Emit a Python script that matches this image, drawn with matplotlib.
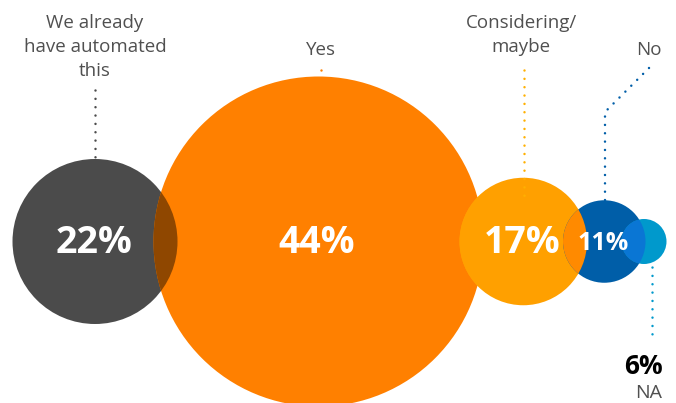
import matplotlib.pyplot as plt
from matplotlib.patches import Circle

plt.rcParams['font.family'] = ['Open Sans', 'DejaVu Sans']
plt.rcParams['lines.scale_dashes'] = False

# answers and their share (%)
answers = ['We already\nhave automated\nthis', 'Yes', 'Considering/\nmaybe', 'No', 'NA']
shares = [22, 44, 17, 11, 6]

colours = ['#4b4b4b', '#ff8000', '#ffa000', '#005ea8', '#0099cc']
# colour where a circle covers the one before it
overlap_colours = [None, '#8f4700', '#ffa000', '#ff8a00', '#0a76d4']
dot_colours = ['#4b4b4b', '#ff8000', '#ffa000', '#005ea8', '#0099cc']

# layout, in pixels
px_per_pct = 3.75
overlap = 24
left = 12.5
cy = 241.5
pct_sizes = [27, 27, 27, 18, 19]

fig = plt.figure(figsize=(6.76, 4.03), dpi=100)
ax = fig.add_axes([0, 0, 1, 1])
ax.set_xlim(0, 676)
ax.set_ylim(403, 0)
ax.axis('off')

radii = [s * px_per_pct for s in shares]
centres = []
x = left + radii[0]
for i, r in enumerate(radii):
    if i > 0:
        x = x + radii[i - 1] + r - overlap
    centres.append(x)

dots = dict(linestyle=(0, (0.01, 6)), linewidth=1.8, dash_capstyle='round')

# leader lines (drawn under the circles where they enter them)
def leader(xs, ys, c, z):
    ax.plot(xs, ys, color=c, zorder=z, **dots)

for i, r in enumerate(radii):
    circ = Circle((centres[i], cy), r, facecolor=colours[i], edgecolor='none', zorder=2 + 2 * i)
    ax.add_patch(circ)
    if i > 0:
        prev = Circle((centres[i - 1], cy), radii[i - 1], transform=ax.transData)
        ov = Circle((centres[i], cy), r, facecolor=overlap_colours[i], edgecolor='none', zorder=3 + 2 * i)
        ax.add_patch(ov)
        ov.set_clip_path(prev)

leader([centres[0], centres[0]], [90, 202], dot_colours[0], 20)
leader([centres[1] + 2, centres[1] + 2], [70, 100], dot_colours[1], 1)
leader([centres[2] + 1, centres[2] + 1], [70, 202], '#ffb000', 20)
leader([649, 605, 605], [68, 112, 227], dot_colours[3], 20)
leader([652, 652], [242, 337], dot_colours[4], 20)

# category labels
ax.text(centres[0], 14, answers[0], ha='center', va='top', fontsize=13.5,
        color='#505050', linespacing=1.42)
ax.text(centres[1] + 2, 55, answers[1], ha='center', va='baseline', fontsize=13.5,
        color='#505050')
ax.text(centres[2] - 2, 14, answers[2], ha='center', va='top', fontsize=13.5,
        color='#505050', linespacing=1.42)
ax.text(649, 55, answers[3], ha='center', va='baseline', fontsize=13.5,
        color='#505050')

# percentages inside the circles
for i in range(4):
    ax.text(centres[i] - 1.5, cy + 1.5, f'{shares[i]}%', ha='center', va='center',
            fontsize=pct_sizes[i], fontweight='bold', color='white', zorder=30)

ax.text(643, 374, f'{shares[4]}%', ha='center', va='baseline', fontsize=pct_sizes[4],
        fontweight='bold', color='black')
ax.text(649, 398, answers[4], ha='center', va='baseline', fontsize=14, color='#505050')

plt.savefig('out.png', dpi=100)
